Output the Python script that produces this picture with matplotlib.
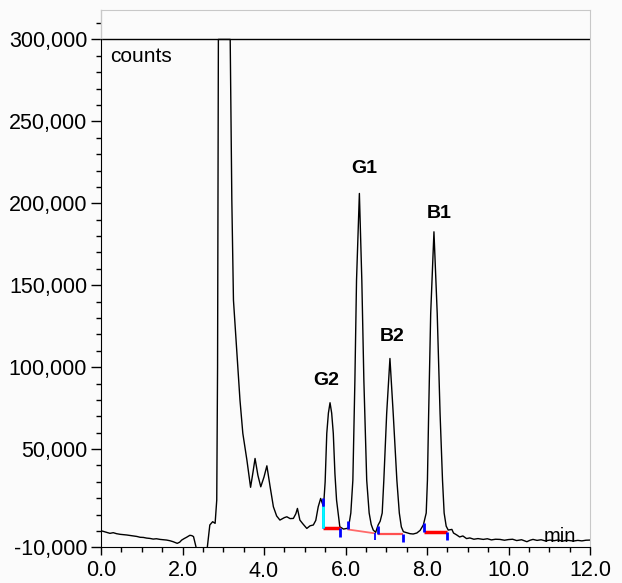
import matplotlib
matplotlib.use("Agg")
import matplotlib.pyplot as plt
import matplotlib.transforms as mtransforms
from matplotlib.ticker import MultipleLocator, FixedLocator, FuncFormatter

# chromatogram trace (time in min, detector counts)
time_min = [0.00, 0.07, 0.14, 0.22, 0.30, 0.38, 0.47, 0.55, 0.63, 0.71, 0.79,
            0.88, 0.96, 1.04, 1.12, 1.20, 1.28, 1.36, 1.45, 1.53, 1.61, 1.69,
            1.77, 1.87, 1.93, 1.98, 2.04, 2.10, 2.18, 2.23, 2.27, 2.33, 2.36,
            2.58, 2.61, 2.67, 2.74, 2.80, 2.84, 2.86, 2.88, 3.17, 3.21,
            3.25, 3.33, 3.41, 3.48, 3.58, 3.67, 3.73, 3.78, 3.85, 3.92, 4.00,
            4.07, 4.15, 4.23, 4.31, 4.39, 4.45, 4.50, 4.56, 4.64, 4.72, 4.78,
            4.82, 4.88, 4.95, 5.05, 5.13, 5.21, 5.27, 5.33, 5.39, 5.46, 5.50,
            5.54, 5.58, 5.62, 5.66, 5.70, 5.74, 5.78, 5.86, 5.95, 6.03, 6.07,
            6.13, 6.18, 6.23, 6.27, 6.34, 6.40, 6.45, 6.52, 6.58, 6.63, 6.68,
            6.74, 6.80, 6.85, 6.90, 6.94, 7.01, 7.09, 7.17, 7.26, 7.32, 7.37,
            7.42, 7.50, 7.58, 7.66, 7.75, 7.83, 7.91, 7.98, 8.01, 8.04, 8.09,
            8.17, 8.25, 8.32, 8.38, 8.42, 8.47, 8.52, 8.61, 8.65, 8.73, 8.80,
            8.88, 8.97, 9.05, 9.15, 9.25, 9.38, 9.48, 9.58, 9.68, 9.79, 9.90,
            10.00, 10.10, 10.20, 10.32, 10.45, 10.53, 10.60, 10.70, 10.80,
            10.90, 11.02, 11.12, 11.22, 11.32, 11.42, 11.50, 11.59, 11.70,
            11.80, 11.90, 12.00]
counts = [200, -300, -800, -1400, -1000, -1600, -2000, -2200, -2400, -2700,
          -3000, -3300, -3800, -3900, -4300, -4500, -4900, -4700, -5100,
          -5300, -5500, -5900, -6500, -7500, -6800, -5500, -4600, -3800,
          -2600, -2800, -3400, -9600, -15000, -15000, -9600, 3700, 5700,
          4700, 18900, 100000, 300000, 300000, 202000,
          140900, 110400, 79900, 59600, 43300, 26700, 36000, 44300, 34000,
          27000, 33000,
          39800, 27000, 14800, 9200, 6700, 7500, 8200, 8700, 7600, 7700, 10500,
          13800, 6700, 4500, 1600, 3200, 3700, 6500, 14800, 19900, 14800, 30000,
          59600, 72000, 78300, 72000, 59600, 35000, 18900, 2600, 1200, 1600, 1600,
          11000, 31000, 92000, 153000, 206000, 153000, 92000, 31000, 11000,
          4000, 600,
          -800, 3700, 6000, 11000, 31000, 71800, 105300, 71800, 31000, 11000,
          2500,
          -400, -1000, -1600, -1800, -1200, 400, 3700, 11000, 31000, 71800,
          132800,
          182600, 132800, 71800, 31000, 11000, 3000, 600, 1000, -1200, -2400,
          -3600,
          -3000, -4600, -4200, -5000, -4600, -5100, -4700, -5400, -5000, -5100,
          -5600,
          -5200, -5000, -5800, -5300, -6500, -5600, -5100, -5700, -5300,
          -6000, -5500, -5900, -5400, -6200, -5600, -5800, -6100, -5700,
          -6000, -5600, -5500]

# integration events (peak start / end times and baseline levels)
seg_start = [5.455, 6.05, 6.80, 7.93]
seg_end = [5.865, 6.72, 7.41, 8.48]
base_start = [2000, 1000, -1600, -300]
base_end = [2000, -1400, -1600, -300]
seg_color = ["#ff0000", "#ff6a6a", "#ff5050", "#ff0000"]
seg_width = [2.5, 1.3, 1.6, 2.5]
start_tick_top = [15250, 6100, 3000, 4900]
end_tick_bottom = [-3500, -5500, -6500, -5700]
g2_marker_top = 20300

peak_names = ["G2", "G1", "B2", "B1"]
peak_label_x = [5.52, 6.45, 7.14, 8.29]
peak_label_y = [92000, 221500, 118500, 194000]

y_major = [-10000, 50000, 100000, 150000, 200000, 250000, 300000]
x_major = [0, 2, 4, 6, 8, 10, 12]

plt.rcParams["font.family"] = ["Liberation Sans", "DejaVu Sans"]

fig = plt.figure(figsize=(6.22, 5.83), dpi=100, facecolor="#fbfbfb")
ax = fig.add_axes([0.1624, 0.061, 0.7862, 0.922])
ax.set_facecolor("#fbfbfb")

ax.plot(time_min, counts, color="black", lw=1.0, zorder=3)

# baselines and event markers
for i in range(len(peak_names)):
    ax.plot([seg_start[i], seg_end[i]], [base_start[i], base_end[i]],
            color=seg_color[i], lw=seg_width[i], zorder=4,
            solid_capstyle="butt")
    ax.vlines(seg_start[i], base_start[i], start_tick_top[i], color="blue",
              lw=2, zorder=5)
    ax.vlines(seg_end[i], end_tick_bottom[i], base_end[i], color="blue",
              lw=2 if i != 1 else 1.3, zorder=5)
ax.vlines(seg_start[0], base_start[0], start_tick_top[0], color="cyan",
          lw=2, zorder=5)
ax.vlines(seg_start[0], start_tick_top[0], g2_marker_top, color="blue",
          lw=2, zorder=5)

for name, px, py in zip(peak_names, peak_label_x, peak_label_y):
    ax.text(px, py, name, ha="center", va="center", fontsize=14,
            fontweight="bold")

ax.text(0.22, 286500, "counts", fontsize=15, va="baseline", ha="left")
ax.text(10.87, -6500, "min", fontsize=14.5, va="baseline", ha="left")

ax.set_xlim(0, 12)
ax.set_ylim(-10000, 318000)
ax.axhline(300000, color="black", lw=1.0, zorder=2)

ax.xaxis.set_major_locator(FixedLocator(x_major))
ax.xaxis.set_minor_locator(MultipleLocator(0.5))
ax.xaxis.set_major_formatter(FuncFormatter(lambda v, p: f"{v:.1f}"))
ax.yaxis.set_major_locator(FixedLocator(y_major))
ax.yaxis.set_minor_locator(MultipleLocator(10000))
ax.yaxis.set_major_formatter(FuncFormatter(lambda v, p: f"{int(v):,}"))

ax.tick_params(axis="both", which="major", direction="out", length=6,
               width=1.0, labelsize=15.5, colors="black")
ax.tick_params(axis="both", which="minor", direction="out", length=3.5,
               width=1.0)
ax.tick_params(axis="y", which="major", length=7, pad=3)
ax.tick_params(axis="x", which="major", pad=3)

for side in ["top", "right"]:
    ax.spines[side].set_color("#c8c8c8")
ax.spines["bottom"].set_color("black")
ax.spines["left"].set_color("black")
ax.spines["left"].set_bounds(-10000, 300000)
ax.axvline(0, ymin=(300000 + 10000) / 328000, ymax=1, color="#c8c8c8", lw=1.0,
           clip_on=False)

# the "4.0" label sits a little lower in the original
labels = ax.get_xticklabels()
labels[2].set_transform(labels[2].get_transform() +
                        mtransforms.ScaledTranslation(0, -1.5 / 100,
                                                      fig.dpi_scale_trans))

fig.savefig("out.png", dpi=100, facecolor=fig.get_facecolor())
